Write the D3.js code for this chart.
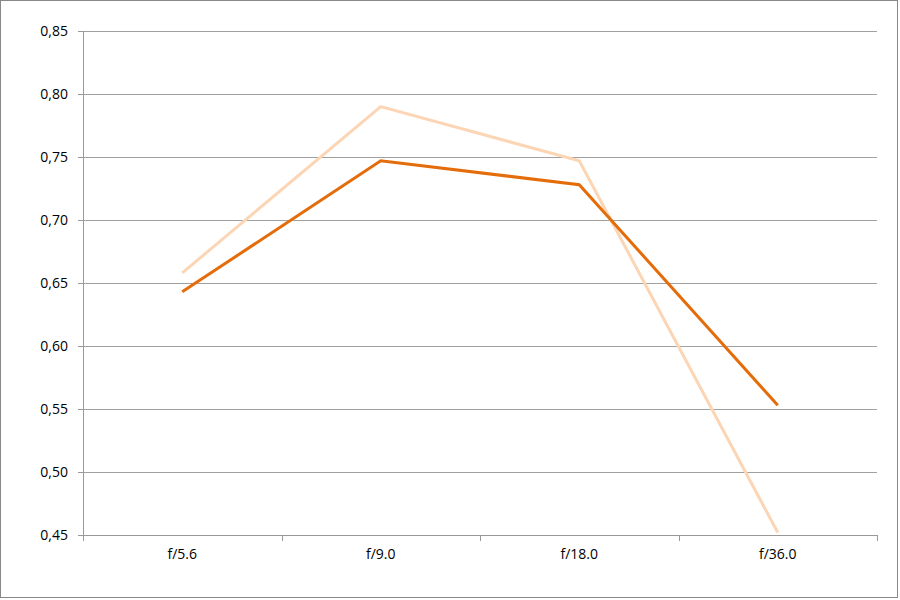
<!DOCTYPE html>
<html lang="en">
<head>
<meta charset="UTF-8">
<title>Line chart</title>
<script src="https://cdn.jsdelivr.net/npm/d3@7"></script>
<style>
  body { margin: 0; background: #fff; }
  text { font-family: "Open Sans", sans-serif; font-size: 14px; fill: #000; }
  .axis path, .axis line { stroke: #999; shape-rendering: crispEdges; }
  .grid line { stroke: #a0a0a0; shape-rendering: crispEdges; }
</style>
</head>
<body>
<script>
// data
var categories = ["f/5.6", "f/9.0", "f/18.0", "f/36.0"];
var seriesDark = [0.643, 0.747, 0.728, 0.553];
var seriesLight = [0.658, 0.790, 0.747, 0.452];
var yTicks = [0.45, 0.50, 0.55, 0.60, 0.65, 0.70, 0.75, 0.80, 0.85];

var width = 900, height = 600;
var margin = {left: 83, right: 23, top: 31, bottom: 65};

var svg = d3.select("body").append("svg")
  .attr("width", width)
  .attr("height", height);

// outer frame
svg.append("rect")
  .attr("x", 0.5).attr("y", 0.5)
  .attr("width", width - 3).attr("height", height - 3)
  .attr("fill", "#fff")
  .attr("stroke", "#888");

var x = d3.scaleBand()
  .domain(categories)
  .range([margin.left, width - margin.right]);

var y = d3.scaleLinear()
  .domain([0.45, 0.85])
  .range([height - margin.bottom, margin.top]);

var fmt = function(d) { return d3.format(".2f")(d).replace(".", ","); };

// gridlines
svg.append("g").attr("class", "grid")
  .selectAll("line")
  .data(yTicks.slice(1))
  .enter().append("line")
  .attr("x1", margin.left)
  .attr("x2", width - margin.right)
  .attr("y1", function(d) { return Math.round(y(d)) + 0.5; })
  .attr("y2", function(d) { return Math.round(y(d)) + 0.5; });

// y axis
var yAxis = svg.append("g").attr("class", "axis")
  .attr("transform", "translate(" + margin.left + ",0)")
  .call(d3.axisLeft(y).tickValues(yTicks).tickFormat(fmt).tickSize(5).tickSizeOuter(0).tickPadding(10));
yAxis.selectAll("text").style("font-size", "14px").attr("fill", "#000");

// x axis with ticks at band edges
var xAxis = svg.append("g").attr("class", "axis")
  .attr("transform", "translate(0," + (height - margin.bottom) + ")");
xAxis.append("line")
  .attr("x1", margin.left).attr("x2", width - margin.right)
  .attr("y1", 0.5).attr("y2", 0.5);
var edges = categories.map(function(c) { return x(c); }).concat([x.range()[1]]);
xAxis.selectAll(".tk")
  .data(edges)
  .enter().append("line")
  .attr("class", "tk")
  .attr("x1", function(d) { return Math.round(d) + 0.5; })
  .attr("x2", function(d) { return Math.round(d) + 0.5; })
  .attr("y1", 0).attr("y2", 6);
xAxis.selectAll(".lbl")
  .data(categories)
  .enter().append("text")
  .attr("class", "lbl")
  .attr("x", function(d) { return x(d) + x.bandwidth() / 2; })
  .attr("y", 24)
  .attr("text-anchor", "middle")
  .text(function(d) { return d; });

// lines
var line = d3.line()
  .x(function(d, i) { return x(categories[i]) + x.bandwidth() / 2; })
  .y(function(d) { return y(d); });

svg.append("path")
  .datum(seriesLight)
  .attr("d", line)
  .attr("fill", "none")
  .attr("stroke", "#fcd5b5")
  .attr("stroke-width", 3);

svg.append("path")
  .datum(seriesDark)
  .attr("d", line)
  .attr("fill", "none")
  .attr("stroke", "#e46c0a")
  .attr("stroke-width", 3);
</script>
</body>
</html>
